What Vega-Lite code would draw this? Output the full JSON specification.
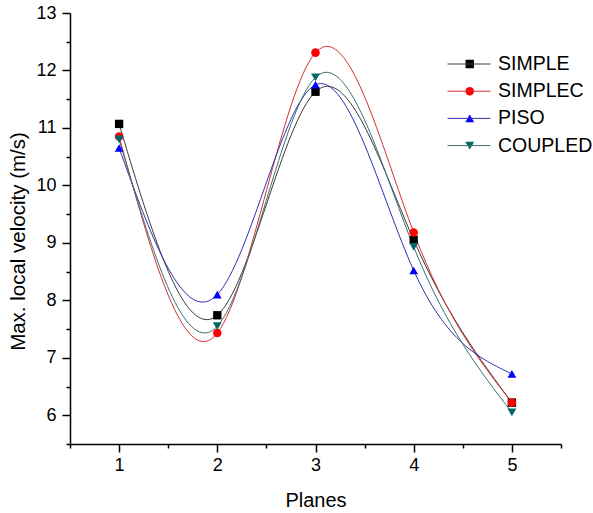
{
  "$schema": "https://vega.github.io/schema/vega-lite/v6.json",
  "width": 491,
  "height": 431,
  "autosize": "none",
  "padding": {"left": 70, "top": 13, "right": 32, "bottom": 69},
  "config": {"view": {"stroke": null}, "font": "Liberation Sans"},
  "data": {
    "values": [
      {"plane": 1, "method": "SIMPLE", "v": 11.07},
      {"plane": 2, "method": "SIMPLE", "v": 7.74},
      {"plane": 3, "method": "SIMPLE", "v": 11.63},
      {"plane": 4, "method": "SIMPLE", "v": 9.05},
      {"plane": 5, "method": "SIMPLE", "v": 6.22},
      {"plane": 1, "method": "SIMPLEC", "v": 10.85},
      {"plane": 2, "method": "SIMPLEC", "v": 7.43},
      {"plane": 3, "method": "SIMPLEC", "v": 12.31},
      {"plane": 4, "method": "SIMPLEC", "v": 9.18},
      {"plane": 5, "method": "SIMPLEC", "v": 6.22},
      {"plane": 1, "method": "PISO", "v": 10.65},
      {"plane": 2, "method": "PISO", "v": 8.1},
      {"plane": 3, "method": "PISO", "v": 11.75},
      {"plane": 4, "method": "PISO", "v": 8.52},
      {"plane": 5, "method": "PISO", "v": 6.72},
      {"plane": 1, "method": "COUPLED", "v": 10.8},
      {"plane": 2, "method": "COUPLED", "v": 7.55},
      {"plane": 3, "method": "COUPLED", "v": 11.88},
      {"plane": 4, "method": "COUPLED", "v": 8.93},
      {"plane": 5, "method": "COUPLED", "v": 6.05}
    ]
  },
  "encoding": {
    "x": {
      "field": "plane",
      "type": "quantitative",
      "title": "Planes",
      "scale": {"domain": [0.5, 5.5], "nice": false, "zero": false},
      "axis": {
        "values": [0.5, 1, 1.5, 2, 2.5, 3, 3.5, 4, 4.5, 5, 5.5],
        "labelExpr": "datum.value % 1 === 0 ? '' + datum.value : ''",
        "tickSize": {"condition": {"test": "datum.value % 1 !== 0", "value": 4}, "value": 8},
        "grid": false,
        "domainColor": "#000",
        "domainWidth": 1.5,
        "tickColor": "#000",
        "tickWidth": 1.5,
        "labelFontSize": 18,
        "labelColor": "#000",
        "labelPadding": 4,
        "labelFlush": false,
        "labelOverlap": false,
        "titleFontSize": 20,
        "titleFontWeight": "normal",
        "titleColor": "#000",
        "titleY": 62,
        "titleBaseline": "alphabetic"
      }
    },
    "y": {
      "field": "v",
      "type": "quantitative",
      "title": "Max. local velocity (m/s)",
      "scale": {"domain": [5.5, 13], "nice": false, "zero": false},
      "axis": {
        "values": [5.5, 6, 6.5, 7, 7.5, 8, 8.5, 9, 9.5, 10, 10.5, 11, 11.5, 12, 12.5, 13],
        "labelExpr": "datum.value % 1 === 0 ? '' + datum.value : ''",
        "tickSize": {"condition": {"test": "datum.value % 1 !== 0", "value": 4}, "value": 8},
        "grid": false,
        "domainColor": "#000",
        "domainWidth": 1.5,
        "tickColor": "#000",
        "tickWidth": 1.5,
        "labelFontSize": 18,
        "labelColor": "#000",
        "labelPadding": 6,
        "labelFlush": false,
        "labelOverlap": false,
        "titleFontSize": 20.5,
        "titleFontWeight": "normal",
        "titleColor": "#000",
        "titleX": -42,
        "titleY": 228,
        "titleAngle": 270,
        "titleBaseline": "bottom",
        "titleAlign": "center"
      }
    }
  },
  "resolve": {"scale": {"stroke": "independent"}, "legend": {"stroke": "independent"}},
  "layer": [
    {
      "mark": {"type": "line", "interpolate": "natural", "strokeWidth": 1},
      "encoding": {
        "stroke": {
          "field": "method",
          "type": "nominal",
          "scale": {
            "domain": ["SIMPLE", "SIMPLEC", "PISO", "COUPLED"],
            "range": ["#3a3a3a", "#d43030", "#3030b0", "#3e6e6e"]
          },
          "legend": {
            "orient": "none",
            "legendX": 377,
            "legendY": 41,
            "title": null,
            "padding": 0,
            "symbolType": "stroke",
            "symbolSize": 1849,
            "symbolStrokeWidth": 1,
            "clipHeight": 20,
            "labelFontSize": 19.5,
            "labelFont": "Liberation Sans",
            "labelColor": "#000",
            "labelOffset": 7,
            "labelLimit": 200,
            "rowPadding": 7.2
          }
        }
      }
    },
    {
      "mark": {"type": "point", "filled": true, "opacity": 1},
      "encoding": {
        "color": {
          "field": "method",
          "type": "nominal",
          "scale": {
            "domain": ["SIMPLE", "SIMPLEC", "PISO", "COUPLED"],
            "range": ["#000000", "#ff0000", "#0000ff", "#006a6a"]
          },
          "legend": {
            "orient": "top-right",
            "offset": 41,
            "title": null,
            "padding": 0,
            "clipHeight": 20,
            "symbolSize": 100,
            "labelExpr": "''",
            "labelFontSize": 19.5,
            "labelOffset": 40,
            "rowPadding": 7.2
          }
        },
        "shape": {
          "field": "method",
          "type": "nominal",
          "scale": {
            "domain": ["SIMPLE", "SIMPLEC", "PISO", "COUPLED"],
            "range": ["square", "circle", "triangle-up", "triangle-down"]
          },
          "legend": null
        },
        "size": {
          "field": "method",
          "type": "nominal",
          "scale": {
            "domain": ["SIMPLE", "SIMPLEC", "PISO", "COUPLED"],
            "range": [70, 80, 115, 115]
          },
          "legend": null
        }
      }
    }
  ]
}
